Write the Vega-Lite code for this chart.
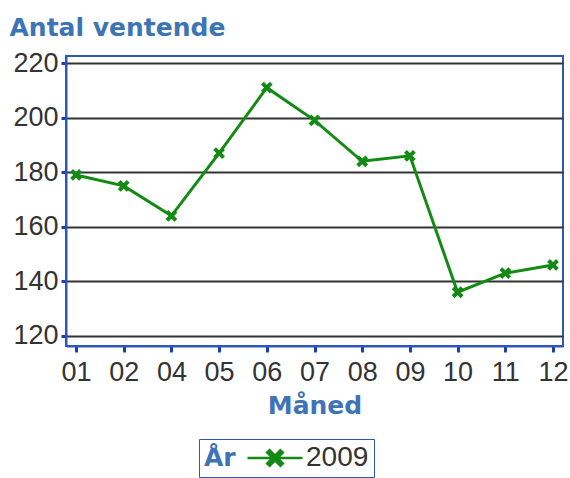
{
  "$schema": "https://vega.github.io/schema/vega-lite/v6.json",
  "autosize": "none",
  "width": 497,
  "height": 290,
  "padding": {"left": 66, "top": 56, "right": 7, "bottom": 132},
  "background": "white",
  "config": {
    "view": {"stroke": "#2f55c0", "strokeWidth": 2},
    "axis": {
      "labelFont": "Liberation Sans",
      "labelFontSize": 27,
      "labelColor": "#333333",
      "titleFont": "DejaVu Sans",
      "titleFontWeight": "bold",
      "titleFontSize": 25,
      "titleColor": "#3d74b5",
      "domainColor": "#2f55c0",
      "domainWidth": 2,
      "tickColor": "#1f3fb0",
      "tickWidth": 3,
      "gridColor": "#333333",
      "gridWidth": 2,
      "gridOpacity": 1
    }
  },
  "data": {
    "values": [
      {"maaned": "01", "aar": "2009", "antal": 179},
      {"maaned": "02", "aar": "2009", "antal": 175},
      {"maaned": "04", "aar": "2009", "antal": 164},
      {"maaned": "05", "aar": "2009", "antal": 187},
      {"maaned": "06", "aar": "2009", "antal": 211},
      {"maaned": "07", "aar": "2009", "antal": 199},
      {"maaned": "08", "aar": "2009", "antal": 184},
      {"maaned": "09", "aar": "2009", "antal": 186},
      {"maaned": "10", "aar": "2009", "antal": 136},
      {"maaned": "11", "aar": "2009", "antal": 143},
      {"maaned": "12", "aar": "2009", "antal": 146}
    ]
  },
  "encoding": {
    "x": {
      "field": "maaned",
      "type": "ordinal",
      "scale": {"type": "point", "padding": 0.21},
      "axis": {
        "title": "Måned",
        "labelAngle": 0,
        "tickSize": 6,
        "labelPadding": 7,
        "titlePadding": 8,
        "grid": false
      }
    },
    "y": {
      "field": "antal",
      "type": "quantitative",
      "scale": {"domain": [116.3, 222.6], "nice": false, "zero": false},
      "axis": {
        "values": [120, 140, 160, 180, 200, 220],
        "title": "Antal ventende",
        "titleAngle": 0,
        "titleAlign": "left",
        "titleBaseline": "alphabetic",
        "titleX": -57,
        "titleY": -21,
        "tickSize": 5,
        "labelPadding": 3,
        "grid": true
      }
    },
    "color": {
      "field": "aar",
      "type": "nominal",
      "scale": {"range": ["#138a13"]},
      "legend": {
        "title": "År",
        "orient": "none",
        "legendX": 133,
        "legendY": 383,
        "direction": "horizontal",
        "titleOrient": "left",
        "titleFont": "DejaVu Sans",
        "titleFontWeight": "bold",
        "titleFontSize": 25,
        "titleColor": "#3d74b5",
        "titlePadding": 25,
        "labelFont": "Liberation Sans",
        "labelFontSize": 28,
        "labelColor": "#333333",
        "labelOffset": 17,
        "strokeColor": "#2f55c0",
        "padding": 5,
        "symbolSize": 400,
        "symbolType": "M-2.75,-0.13L2.75,-0.13L2.75,0.13L-2.75,0.13ZM-0.538,-0.962L0.962,0.538L0.538,0.962L-0.962,-0.538ZM-0.538,0.962L-0.962,0.538L0.538,-0.962L0.962,-0.538Z",
        "symbolStrokeWidth": 0,
        "encode": {
          "symbols": {
            "update": {
              "fill": {"value": "#138a13"},
              "fillOpacity": {"value": 1},
              "strokeWidth": {"value": 0}
            }
          }
        }
      }
    }
  },
  "layer": [
    {
      "mark": {"type": "line", "strokeWidth": 3}
    },
    {
      "mark": {
        "type": "point",
        "shape": "M-1,-1L1,1M-1,1L1,-1",
        "filled": false,
        "size": 80,
        "strokeWidth": 4,
        "opacity": 1
      }
    }
  ]
}
